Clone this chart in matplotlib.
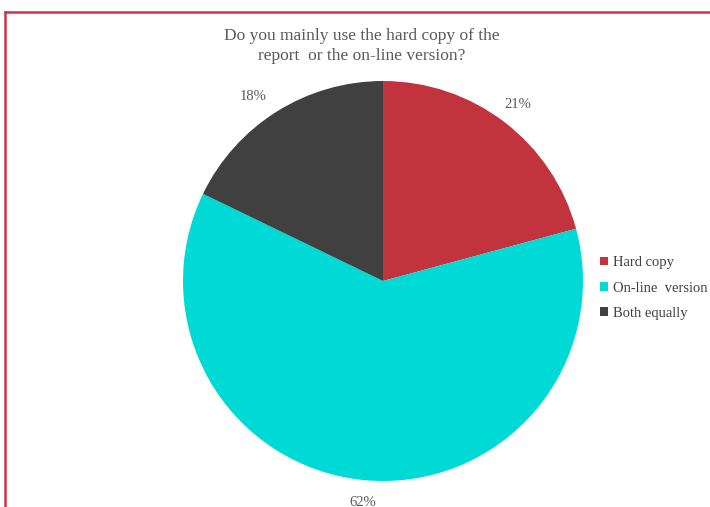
import matplotlib
matplotlib.use("Agg")
import matplotlib.pyplot as plt
from matplotlib.lines import Line2D

plt.rcParams['font.family'] = ['Liberation Serif', 'DejaVu Serif']

categories = ["Hard copy", "On-line  version", "Both equally"]
values = [21, 62, 18]
pct_labels = ["21%", "62%", "18%"]
colors = ["#C1343D", "#00DAD6", "#404040"]

W, H = 710, 507
fig = plt.figure(figsize=(W / 100, H / 100), dpi=100)
fig.patch.set_facecolor("white")

# pie: centre (383, 281) px, radius 200 px
ax = fig.add_axes([183 / W, (H - 481) / H, 400 / W, 400 / H])
wedges, texts = ax.pie(values, colors=colors, startangle=90, counterclock=False,
                       labels=pct_labels, labeldistance=1.11,
                       textprops=dict(color="#595959", fontsize=10.5))
for t in texts:
    t.set_ha("center")
    t.set_va("center")
# the small dark slice label sits a bit further round in the original
tx, ty = texts[2].get_position()
texts[2].set_position((tx - 0.06, ty - 0.02))
ax.set_xlim(-1, 1)
ax.set_ylim(-1, 1)
ax.axis("off")

fig.text(362 / W, 1 - 46 / H, "Do you mainly use the hard copy of the\nreport  or the on-line version?",
         ha="center", va="center", fontsize=12.5, color="#595959", linespacing=1.3)

fig.legend(wedges, categories, loc="center left", bbox_to_anchor=(587 / W, 1 - 288 / H),
           frameon=False, fontsize=10.5, handlelength=0.55, handleheight=0.55,
           handletextpad=0.3, labelspacing=0.85, labelcolor="#404040")

# red frame on top and left
red = "#CC3344"
fig.add_artist(Line2D([5 / W, 1.0], [1 - 12 / H, 1 - 12 / H], color=red, lw=1.8,
                      transform=fig.transFigure))
fig.add_artist(Line2D([5 / W, 5 / W], [0, 1 - 12 / H], color=red, lw=1.8,
                      transform=fig.transFigure))

fig.savefig("out.png", dpi=100)
